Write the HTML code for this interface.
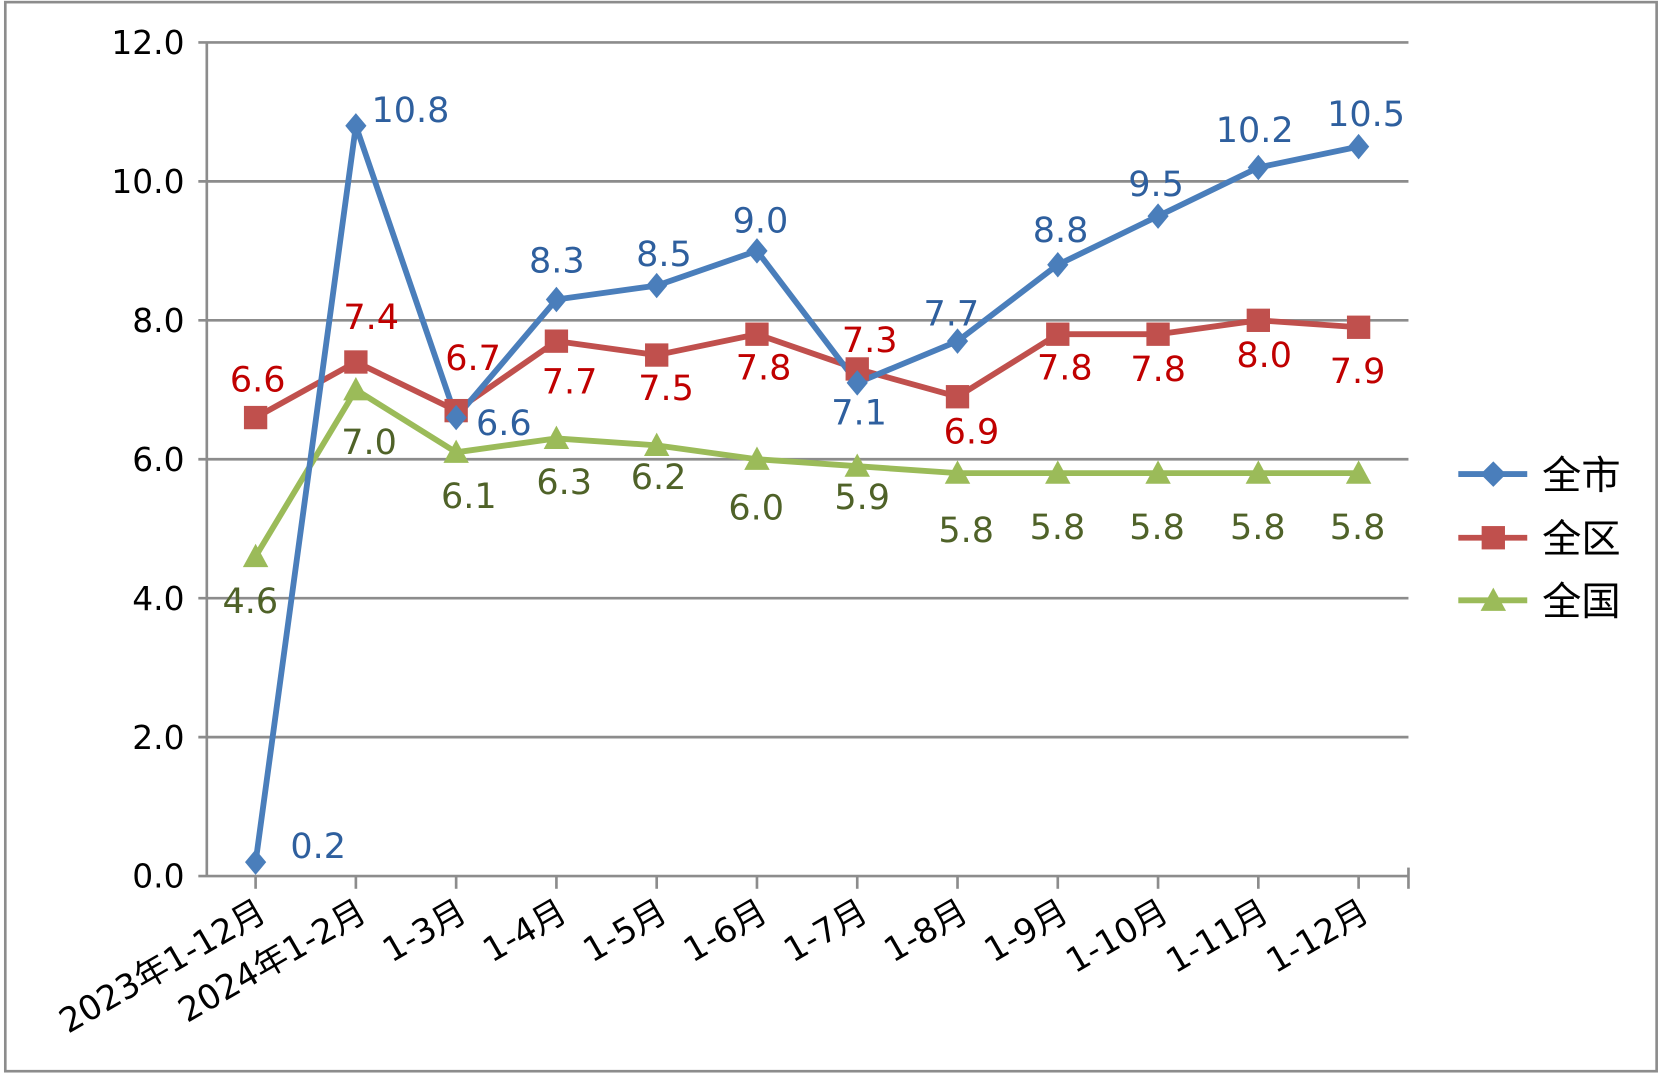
<!DOCTYPE html>
<html><head><meta charset="utf-8"><style>html,body{margin:0;padding:0;background:#fff}svg{display:block}</style></head><body>
<svg width="1663" height="1076" viewBox="0 0 1568 1014.5" xmlns="http://www.w3.org/2000/svg" font-family="DejaVu Sans, 'Noto Sans CJK SC', sans-serif">
<rect x="5" y="2" width="1557" height="1008" fill="#fff" stroke="#8c8c8c" stroke-width="2.5"/>
<g stroke="#8c8c8c" stroke-width="2.5">
<line x1="187" y1="40" x2="1328" y2="40"/><line x1="187" y1="171" x2="1328" y2="171"/><line x1="187" y1="302" x2="1328" y2="302"/><line x1="187" y1="433" x2="1328" y2="433"/><line x1="187" y1="564" x2="1328" y2="564"/><line x1="187" y1="695" x2="1328" y2="695"/><line x1="187" y1="826" x2="1328" y2="826"/>
<line x1="195" y1="40" x2="195" y2="826"/>
</g>
<g stroke="#8c8c8c" stroke-width="2.5" id="ticks"></g>
<g font-size="31" fill="#000" text-anchor="end">
<text x="174" y="51">12.0</text><text x="174" y="182">10.0</text><text x="174" y="313">8.0</text><text x="174" y="444">6.0</text><text x="174" y="575">4.0</text><text x="174" y="706">2.0</text><text x="174" y="837">0.0</text>
</g>
<g id="xl" font-size="32" fill="#000" text-anchor="end"></g>
<polyline id="gl" fill="none" stroke="#9bbb59" stroke-width="5.5" stroke-linejoin="round"/>
<polyline id="rl" fill="none" stroke="#c0504d" stroke-width="5.5" stroke-linejoin="round"/>
<polyline id="bl" fill="none" stroke="#4a7ebb" stroke-width="5.5" stroke-linejoin="round"/>
<g id="mk"></g>
<g id="lb" font-size="33" text-anchor="middle"></g>
<g>
<line x1="1375" y1="447" x2="1440" y2="447" stroke="#4a7ebb" stroke-width="5.5"/><path d="M1408 435 L1420 447 L1408 459 L1396 447Z" fill="#4a7ebb"/>
<line x1="1375" y1="507" x2="1440" y2="507" stroke="#c0504d" stroke-width="5.5"/><rect x="1397" y="496" width="22" height="22" fill="#c0504d"/>
<line x1="1375" y1="566" x2="1440" y2="566" stroke="#9bbb59" stroke-width="5.5"/><path d="M1408 554 L1420 576 L1396 576Z" fill="#9bbb59"/>
<g font-size="37" fill="#000"><text x="1454" y="461">全市</text><text x="1454" y="521">全区</text><text x="1454" y="580">全国</text></g>
</g>
<script>
var ns="http://www.w3.org/2000/svg";
function X(i){return 241+i*94.545}function Y(v){return 826-v*65.5}
var B=[0.2,10.8,6.6,8.3,8.5,9.0,7.1,7.7,8.8,9.5,10.2,10.5],R=[6.6,7.4,6.7,7.7,7.5,7.8,7.3,6.9,7.8,7.8,8.0,7.9],G=[4.6,7.0,6.1,6.3,6.2,6.0,5.9,5.8,5.8,5.8,5.8,5.8];
function pts(a){return a.map(function(v,i){return X(i)+","+Y(v)}).join(" ")}
document.getElementById("bl").setAttribute("points",pts(B));
document.getElementById("rl").setAttribute("points",pts(R));
document.getElementById("gl").setAttribute("points",pts(G));
function el(t,a,p,txt){var e=document.createElementNS(ns,t);for(var k in a)e.setAttribute(k,a[k]);if(txt)e.textContent=txt;p.appendChild(e);return e}
var tk=document.getElementById("ticks");
for(var i=0;i<12;i++){var x=X(i);el("line",{x1:x,y1:826,x2:x,y2:838},tk);}
el("line",{x1:1328,y1:818,x2:1328,y2:838},tk);
var mk=document.getElementById("mk");
G.forEach(function(v,i){var x=X(i),y=Y(v);el("path",{d:"M"+x+" "+(y-12)+"L"+(x+12)+" "+(y+10)+"L"+(x-12)+" "+(y+10)+"Z",fill:"#9bbb59"},mk)});
R.forEach(function(v,i){var x=X(i),y=Y(v);el("rect",{x:x-11,y:y-11,width:22,height:22,fill:"#c0504d"},mk)});
B.forEach(function(v,i){var x=X(i),y=Y(v);el("path",{d:"M"+x+" "+(y-12)+"L"+(x+10)+" "+y+"L"+x+" "+(y+12)+"L"+(x-10)+" "+y+"Z",fill:"#4a7ebb"},mk)});
var lb=document.getElementById("lb");
var bp=[[300,797],[387,103],[475,398],[525,245],[626,239],[717,207],[810,388],[897,295],[1000,216],[1090,173],[1183,122],[1288,107]];
var rp=[[243,357],[350,298],[446,337],[537,359],[628,365],[720,346],[820,320],[916,406],[1004,346],[1092,347],[1192,334],[1280,349]];
var gp=[[236,566],[348,416],[442,467],[532,454],[621,449],[713,478],[813,468],[911,499],[997,496],[1091,496],[1186,496],[1280,496]];
function lab(a,p,c){a.forEach(function(v,i){el("text",{x:p[i][0],y:p[i][1]+12,fill:c},lb,v.toFixed(1))})}
lab(B,bp,"#2e5f9e");lab(R,rp,"#c00000");lab(G,gp,"#4f6228");
var xl=document.getElementById("xl");
var names=["2023年1-12月","2024年1-2月","1-3月","1-4月","1-5月","1-6月","1-7月","1-8月","1-9月","1-10月","1-11月","1-12月"];
names.forEach(function(n,i){var x=X(i)+12,y=866;el("text",{x:x,y:y,transform:"rotate(-30 "+x+" "+y+")"},xl,n)});
</script>
</svg>
</body></html>
